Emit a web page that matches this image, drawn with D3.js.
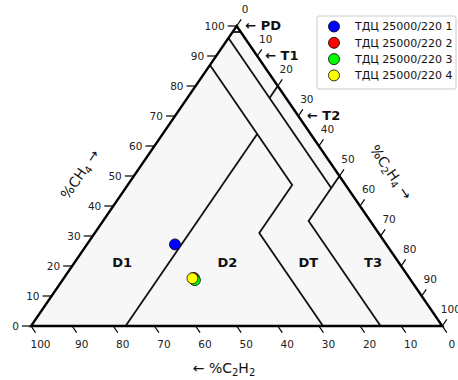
<!DOCTYPE html>
<html>
<head>
<meta charset="utf-8">
<script src="https://cdn.jsdelivr.net/npm/d3@7"></script>
<style>
  body { margin: 0; background: #fff; }
  svg text { font-family: "DejaVu Sans", sans-serif; }
</style>
</head>
<body>
<div id="chart"></div>
<script>
// gas shares, percent: [CH4, C2H4, C2H2]
const units = ["ТДЦ 25000/220 1", "ТДЦ 25000/220 2", "ТДЦ 25000/220 3", "ТДЦ 25000/220 4"]
const ch4 = [27.2, 16.0, 15.3, 15.9]
const c2h4 = [21.4, 31.6, 32.2, 31.3]
const c2h2 = [51.4, 52.4, 52.5, 52.8]
const colors = ["#0000ff", "#ff0000", "#00ff00", "#ffff00"]

const tickValues = d3.range(0, 101, 10)

// zone borders, each a list of [CH4, C2H4, C2H2]
const borders = [
    [[98, 2, 0], [98, 0, 2]],
    [[80, 20, 0], [76, 20, 4]],
    [[96, 0, 4], [46, 50, 4]],
    [[50, 50, 0], [35, 50, 15], [0, 85, 15]],
    [[87, 0, 13], [47, 40, 13], [31, 40, 29], [0, 71, 29]],
    [[64, 23, 13], [0, 23, 77]]
]
const zoneNames = ["D1", "D2", "DT", "T3"]
const zoneAt = [[21.3, 11.5], [21.3, 37.1], [21.3, 56.8], [21.3, 72.5]]   // [CH4, C2H4]
const sideNames = ["PD", "T1", "T2"]
const sideAt = [0.3, 10, 30.3]   // C2H4 along right edge

const W = 458, H = 380
const x = d3.scaleLinear().domain([0, 100]).range([31, 442.3])
const y = d3.scaleLinear().domain([0, 100]).range([326, 26])

function pos(p) {
    const s = p[0] + p[1] + p[2]
    const a = p[0] / s * 100, b = p[1] / s * 100
    return [x(b + a / 2), y(a)]
}

const svg = d3.select("#chart").append("svg")
    .attr("width", W).attr("height", H)

const corners = [[100, 0, 0], [0, 100, 0], [0, 0, 100]].map(pos)
svg.append("path")
    .attr("d", "M" + corners.join("L") + "Z")
    .style("fill", "#f7f7f7")
    .style("stroke", "none")

const line = d3.line()
svg.selectAll("path.border").data(borders).join("path")
    .attr("class", "border")
    .attr("d", d => line(d.map(pos)))
    .style("fill", "none")
    .style("stroke", "#111")
    .style("stroke-width", 1.8)

svg.append("path")
    .attr("d", "M" + corners.join("L") + "Z")
    .style("fill", "none")
    .style("stroke", "#000")
    .style("stroke-width", 2.4)
    .style("stroke-linejoin", "miter")

// unit vector along the left edge
const dx = x(50) - x(0), dy = y(100) - y(0)
const len = Math.hypot(dx, dy), ux = dx / len, uy = dy / len
const TL = 8
const tickColor = "#222"

// left axis: CH4
const gl = svg.append("g")
tickValues.forEach(v => {
    const [px, py] = pos([v, 0, 100 - v])
    gl.append("line").attr("x1", px).attr("y1", py).attr("x2", px - 9).attr("y2", py)
        .style("stroke", "#000").style("stroke-width", 1.2)
    gl.append("text").attr("x", px - 12).attr("y", py).attr("dy", "0.35em")
        .attr("text-anchor", "end").style("font-size", "10.5px").style("fill", tickColor)
        .text(v)
})

// right axis: C2H4
const gr = svg.append("g")
tickValues.forEach(v => {
    const [px, py] = pos([100 - v, v, 0])
    const ex = px + ux * TL, ey = py + uy * TL
    gr.append("line").attr("x1", px).attr("y1", py).attr("x2", ex).attr("y2", ey)
        .style("stroke", "#000").style("stroke-width", 1.2)
    gr.append("text").attr("x", ex + 4).attr("y", ey - 10.5).attr("dy", "0.35em")
        .attr("text-anchor", "middle").style("font-size", "10.5px").style("fill", tickColor)
        .text(v)
})

// bottom axis: C2H2
const gb = svg.append("g")
tickValues.forEach(v => {
    const [px, py] = pos([0, 100 - v, v])
    const ex = px + ux * TL, ey = py - uy * TL
    gb.append("line").attr("x1", px).attr("y1", py).attr("x2", ex).attr("y2", ey)
        .style("stroke", "#000").style("stroke-width", 1.2)
    gb.append("text").attr("x", ex + 5).attr("y", ey + 11.5).attr("dy", "0.35em")
        .attr("text-anchor", "middle").style("font-size", "10.5px").style("fill", tickColor)
        .text(v)
})

// axis titles
const angle = Math.atan2(-dy, dx) * 180 / Math.PI
function title(tx, ty, rot, parts) {
    const t = svg.append("text")
        .attr("transform", "translate(" + tx + "," + ty + ") rotate(" + rot + ")")
        .attr("text-anchor", "middle").attr("dy", "0.35em")
        .style("font-size", "14px").style("fill", "#111")
    parts.forEach(p => {
        if (p.sub) t.append("tspan").attr("dy", 3).style("font-size", "10px").text(p.sub)
        else t.append("tspan").attr("dy", p.back ? -3 : 0).text(p.txt)
    })
}
title(84, 177, -angle, [{ txt: "%CH" }, { sub: "4" }, { txt: " →", back: true }])
title(387, 175, angle, [{ txt: "%C" }, { sub: "2" }, { txt: "H", back: true }, { sub: "4" }, { txt: " →", back: true }])
title(224, 373, 0, [{ txt: "← %C" }, { sub: "2" }, { txt: "H", back: true }, { sub: "2" }])

// zone names
svg.selectAll("text.zone").data(zoneNames).join("text")
    .attr("class", "zone")
    .attr("x", (d, i) => pos([zoneAt[i][0], zoneAt[i][1], 100 - zoneAt[i][0] - zoneAt[i][1]])[0])
    .attr("y", (d, i) => pos([zoneAt[i][0], zoneAt[i][1], 100 - zoneAt[i][0] - zoneAt[i][1]])[1])
    .attr("dy", "0.35em").attr("text-anchor", "middle")
    .style("font-size", "13px").style("font-weight", "bold").style("fill", "#111")
    .text(d => d)

svg.selectAll("text.side").data(sideNames).join("text")
    .attr("class", "side")
    .attr("x", (d, i) => pos([100 - sideAt[i], sideAt[i], 0])[0] + 8)
    .attr("y", (d, i) => pos([100 - sideAt[i], sideAt[i], 0])[1] - 1)
    .attr("dy", "0.35em")
    .style("font-size", "13px").style("font-weight", "bold").style("fill", "#111")
    .text(d => "← " + d)

// samples
const samples = units.map((u, i) => ({ name: u, p: [ch4[i], c2h4[i], c2h2[i]], color: colors[i] }))
svg.selectAll("circle.pt").data(samples).join("circle")
    .attr("class", "pt")
    .attr("cx", d => pos(d.p)[0])
    .attr("cy", d => pos(d.p)[1])
    .attr("r", 5.5)
    .style("fill", d => d.color)
    .style("stroke", "#000")
    .style("stroke-width", 0.8)

// legend
const lg = svg.append("g").attr("transform", "translate(317,16)")
lg.append("rect").attr("width", 139).attr("height", 73).attr("rx", 2)
    .style("fill", "#fff").style("stroke", "#ccc").style("stroke-width", 1)
samples.forEach((d, i) => {
    const row = lg.append("g").attr("transform", "translate(0," + (10.5 + i * 16.3) + ")")
    row.append("circle").attr("cx", 17).attr("cy", 0).attr("r", 5.5)
        .style("fill", d.color).style("stroke", "#000").style("stroke-width", 0.8)
    row.append("text").attr("x", 38).attr("y", 0).attr("dy", "0.35em")
        .style("font-size", "11px").style("fill", "#111").text(d.name)
})
</script>
</body>
</html>
